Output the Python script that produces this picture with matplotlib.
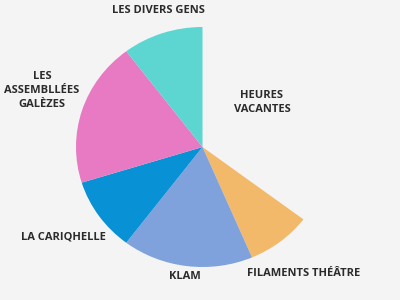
import matplotlib
matplotlib.use("Agg")
import matplotlib.pyplot as plt

# slices clockwise from 12 o'clock (share of the week, %)
labels = ["HEURES\nVACANTES", "FILAMENTS THÉÂTRE", "KLAM", "LA CARIQHELLE",
          "LES\nASSEMBLLÉES\nGALÈZES", "LES DIVERS GENS"]
values = [35.3, 8.3, 16.7, 9.9, 19.5, 10.3]
colors = ["none", "#F2B96B", "#7FA1DC", "#0891D5", "#E879C3", "#5DD5D0"]

# label anchor points (data coords, pie radius = 1)
label_x = [0.47, 0.80, -0.14, -1.10, -1.27, -0.35]
label_y = [0.37, -1.05, -1.08, -0.75, 0.47, 1.14]

plt.rcParams["font.family"] = ["Open Sans", "DejaVu Sans"]

fig = plt.figure(figsize=(4, 3), dpi=100, facecolor="#f4f4f4")
ax = fig.add_axes([0, 0, 1, 1])
ax.set_facecolor("#f4f4f4")

ax.pie(values, colors=colors, startangle=90, counterclock=False,
       wedgeprops=dict(linewidth=0))

# the original pie is slightly stretched horizontally
ax.set_aspect("auto")
ax.set_xlim(-202.5 / 126.5, 197.5 / 126.5)
ax.set_ylim(-153 / 120, 147 / 120)
ax.axis("off")

for lab, x, y in zip(labels, label_x, label_y):
    ax.text(x, y, lab, ha="center", va="center", fontsize=8,
            fontweight="bold", color="#2b2b2b", linespacing=1.4)

fig.savefig("out.png", dpi=100, facecolor=fig.get_facecolor())
